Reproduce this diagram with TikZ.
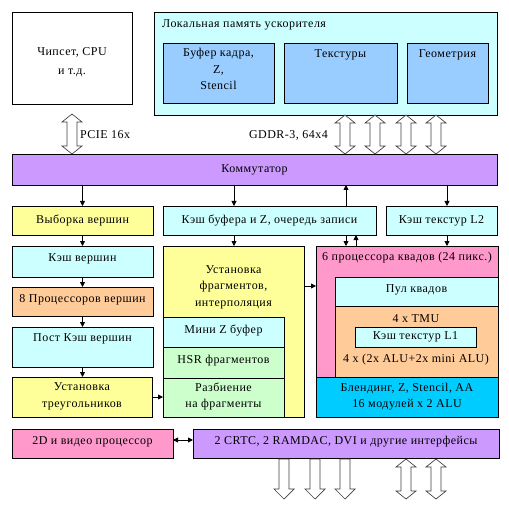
\documentclass[tikz,border=0pt]{standalone}
\usepackage{fontspec}
\setmainfont[LetterSpace=4]{Liberation Serif}
\usetikzlibrary{arrows.meta}
\definecolor{cyel}{HTML}{FFFF99}
\definecolor{ccya}{HTML}{CCFFFF}
\definecolor{cora}{HTML}{FFCC99}
\definecolor{clav}{HTML}{CC99FF}
\definecolor{cpin}{HTML}{FF99CC}
\definecolor{cblu}{HTML}{99CCFF}
\definecolor{cgrn}{HTML}{CCFFCC}
\definecolor{cbri}{HTML}{00CCFF}
\newcommand\mybox[7]{\node[bx, fill=#2, minimum width={#5-#3}, minimum height={#6-#4}] (#1) at (#3,#4) {};}
\newcommand\dbar[3]{\draw[hollow] (#1,#2) -- (#1+10,#2+8) -- (#1+5,#2+8) -- (#1+5,#3-8) -- (#1+10,#3-8) -- (#1,#3) -- (#1-10,#3-8) -- (#1-5,#3-8) -- (#1-5,#2+8) -- (#1-10,#2+8) -- cycle;}
\newcommand\dnar[3]{\draw[hollow] (#1-5,#2) -- (#1+5,#2) -- (#1+5,#3-10) -- (#1+10,#3-10) -- (#1,#3) -- (#1-10,#3-10) -- (#1-5,#3-10) -- cycle;}
\begin{document}
\begin{tikzpicture}[x=1pt,y=-1pt,
  every node/.style={font=\fontsize{12}{16.5}\selectfont},
  bx/.style={draw=black, line width=0.9pt, inner sep=0pt, outer sep=0pt, anchor=north west},
  txt/.style={align=center, inner sep=0pt},
  arr/.style={line width=0.8pt, -{Triangle[length=5pt,width=5pt]}},
  hollow/.style={draw=black!75, fill=white, line width=0.7pt, line join=miter}]
\useasboundingbox (0,0) rectangle (509,508);
\fill[white] (0,0) rectangle (509,508);
% top
\mybox{chip}{white}{12}{12}{132}{104}{}
\node[txt, font=\fontsize{12}{18.5}\selectfont] (tchip) at (72,62) {Чипсет, CPU\\и т.д.};
\mybox{mem}{ccya}{154}{12}{497}{115}{}
\node[txt, anchor=west] (tmem) at (162,25) {Локальная память ускорителя};
\mybox{fb}{cblu}{163}{43}{274}{103}{}
\node[txt, anchor=north] (tfb) at (218.5,48) {Буфер кадра,\\Z,\\Stencil};
\mybox{tex}{cblu}{284}{43}{397}{103}{}
\node[txt] (ttex) at (340.5,55) {Текстуры};
\mybox{geo}{cblu}{407}{43}{488}{103}{}
\node[txt] (tgeo) at (447.5,55) {Геометрия};
% switch
\mybox{sw}{clav}{12}{154}{497}{185}{}
\node[txt] (tsw) at (254.5,169.5) {Коммутатор};
% left column
\mybox{vf}{cyel}{12}{206}{153}{235}{}
\node[txt] (tvf) at (82.5,220.5) {Выборка вершин};
\mybox{vc}{ccya}{12}{246}{153}{277}{}
\node[txt] (tvc) at (82.5,259) {Кэш вершин};
\mybox{vp}{cora}{12}{287}{153}{316}{}
\node[txt] (tvp) at (82.5,300) {8 Процессоров вершин};
\mybox{pc}{ccya}{12}{327}{153}{367}{}
\node[txt] (tpc) at (82.5,339) {Пост Кэш вершин};
\mybox{ts}{cyel}{12}{377}{152}{417}{}
\node[txt] (tts) at (82,396.5) {Установка\\треугольников};
% middle column
\mybox{zb}{ccya}{163}{206}{376}{235}{}
\node[txt] (tzb) at (269.5,220.5) {Кэш буфера и Z, очередь записи};
\mybox{fs}{cyel}{163}{246}{304}{417}{}
\node[txt, anchor=north] (tfs) at (233.5,265) {Установка\\фрагментов,\\интерполяция};
\mybox{mz}{ccya}{163}{317}{284}{347}{}
\node[txt] (tmz) at (223.5,330) {Мини Z буфер};
\mybox{hsr}{cgrn}{163}{347}{284}{378}{}
\node[txt] (thsr) at (223.5,361) {HSR фрагментов};
\mybox{rf}{cgrn}{163}{378}{284}{417}{}
\node[txt] (trf) at (223.5,396.5) {Разбиение\\на фрагменты};
% right column
\mybox{l2}{ccya}{386}{206}{497}{235}{}
\node[txt] (tl2) at (441.5,220.5) {Кэш текстур L2};
\mybox{qp}{cpin}{316}{246}{498}{377}{}
\node[txt] (tqp) at (407,258) {6 процессора квадов (24 пикс.)};
\mybox{pool}{ccya}{335}{277}{498}{306}{}
\node[txt] (tpool) at (416.5,290) {Пул квадов};
\mybox{tmu}{cora}{335}{306}{498}{377}{}
\node[txt] (ttmu) at (416,319) {4 x TMU};
\mybox{l1}{ccya}{355}{327}{476}{347}{}
\node[txt] (tl1) at (415.5,337) {Кэш текстур L1};
\node[txt] (talu) at (416,360) {4 x (2x ALU+2x mini ALU)};
\mybox{bl}{cbri}{316}{377}{498}{417}{}
\node[txt] (tbl) at (407,396.5) {Блендинг, Z, Stencil, AA\\16 модулей x 2 ALU};
% bottom
\mybox{vid}{cpin}{12}{429}{173}{458}{}
\node[txt] (tvid) at (92.5,442) {2D и видео процессор};
\mybox{crtc}{clav}{193}{429}{499}{458}{}
\node[txt] (tcrtc) at (346,442) {2 CRTC, 2 RAMDAC, DVI и другие интерфейсы};
% helper coordinates
\coordinate (xa) at (234,0);
\coordinate (xb) at (346,0);
\coordinate (xc) at (356,0);
\coordinate (xd) at (447,0);
\coordinate (ya) at (0,286);
\coordinate (yb) at (0,440);
% small arrows
\draw[arr] (sw.south -| vf.north) -- (vf.north);
\draw[arr] (vf.south) -- (vc.north -| vf.south);
\draw[arr] (vc.south) -- (vp.north -| vc.south);
\draw[arr] (vp.south) -- (pc.north -| vp.south);
\draw[arr] (pc.south) -- (ts.north -| pc.south);
\draw[arr] (sw.south -| xa) -- (zb.north -| xa);
\draw[arr] (zb.north -| xb) -- (sw.south -| xb);
\draw[arr] (sw.south -| xd) -- (l2.north -| xd);
\draw[arr] (zb.south -| xa) -- (fs.north -| xa);
\draw[arr] (zb.south -| xb) -- (qp.north -| xb);
\draw[arr] (qp.north -| xc) -- (zb.south -| xc);
\draw[arr] (l2.south -| xd) -- (qp.north -| xd);
\draw[arr] (ts.east) -- (rf.west |- ts.east);
\draw[arr] (fs.east |- ya) -- (qp.west |- ya);
\draw[line width=0.8pt, {Triangle[length=5pt,width=5pt]}-{Triangle[length=5pt,width=5pt]}] (vid.east |- yb) -- (crtc.west |- yb);
% hollow arrows
\dbar{72}{114}{154}
\node[txt, anchor=west] (lpcie) at (80,135) {PCIE 16x};
\dbar{345}{115}{154}
\dbar{375}{115}{154}
\dbar{406}{115}{154}
\dbar{436}{115}{154}
\node[txt, anchor=east] (lgddr) at (328,135) {GDDR-3, 64x4};
\dnar{284}{459}{499}
\dnar{315}{459}{499}
\dnar{345}{459}{499}
\dbar{406}{459}{499}
\dbar{436}{459}{499}
\end{tikzpicture}
\end{document}
